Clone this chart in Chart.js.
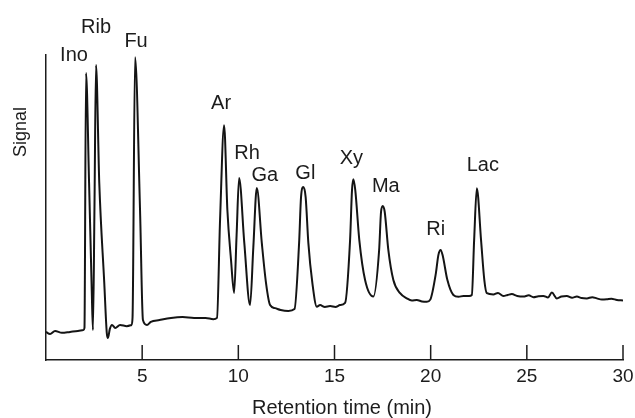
<!DOCTYPE html>
<html><head><meta charset="utf-8">
<script src="https://cdn.jsdelivr.net/npm/chart.js@4"></script>
<style>html,body{margin:0;padding:0;background:#fff;}canvas{display:block;}</style>
</head><body>
<canvas id="c" width="635" height="418"></canvas>
<script>
// ---- data ----
const retentionTime = [
  0.00,0.21,0.47,0.83,1.25,1.66,1.95,2.00,2.08,2.24,2.37,2.44,2.52,2.60,2.77,3.03,3.16,3.22,3.32,3.43,3.60,3.85,4.20,4.45,
  4.50,4.63,4.89,5.04,5.25,5.45,5.90,6.50,7.10,7.70,8.30,8.70,8.89,
  9.05,9.26,9.43,9.62,9.78,9.91,10.04,10.31,10.61,10.78,10.96,11.22,11.44,11.65,11.91,12.20,12.60,12.92,
  13.16,13.26,13.38,13.50,13.64,13.85,14.08,14.25,14.50,14.77,15.05,15.29,15.55,
  15.81,15.91,15.98,16.08,16.29,16.59,17.02,17.32,17.42,17.51,17.61,17.80,18.06,18.41,18.76,19.02,19.28,19.55,19.80,19.98,
  20.27,20.40,20.52,20.62,20.87,21.18,21.45,21.70,22.00,22.14,
  22.26,22.40,22.62,22.79,22.92,23.26,23.50,23.78,24.00,24.22,24.50,24.82,25.10,25.34,25.60,25.86,26.10,26.30,26.56,26.80,
  27.08,27.35,27.60,27.85,28.12,28.40,28.64,28.90,29.16,29.40,29.68,30.00
];
const signal = [
  9.2,8.5,9.5,8.9,9.2,9.5,9.8,10.5,94.1,58.0,25.0,9.8,50.0,96.7,58.0,25.2,8.9,7.2,10.2,11.5,10.5,11.5,11.1,11.5,
  14.0,99.3,49.0,13.1,11.5,12.5,13.1,13.8,14.1,13.8,13.8,13.4,13.8,
  45.9,77.0,49.2,32.8,22.0,41.0,59.7,38.4,18.0,37.0,56.4,38.4,25.2,18.0,17.0,16.4,16.1,16.7,
  38.4,53.4,56.7,53.4,38.4,25.2,17.5,18.0,17.4,17.7,17.4,18.0,18.7,
  39.3,55.7,59.3,55.7,39.3,26.2,20.8,36.0,48.6,50.5,48.6,36.0,26.2,21.9,20.2,19.5,19.7,19.2,19.1,19.8,
  28.4,34.4,36.1,34.4,26.2,21.3,20.7,21.0,21.0,21.3,
  39.3,56.3,39.3,26.2,21.9,21.5,22.0,21.0,21.3,21.6,21.0,20.8,21.2,20.6,20.9,21.0,20.5,22.1,20.2,20.8,
  21.0,20.4,20.8,20.3,20.2,20.6,20.2,19.8,19.9,20.1,19.7,19.5
];
const xTickValues = [5, 10, 15, 20, 25, 30];
const peakNames = ['Ino','Rib','Fu','Ar','Rh','Ga','Gl','Xy','Ma','Ri','Lac'];
const peakTimes = [2.08, 2.60, 4.63, 9.26, 10.04, 10.96, 13.38, 15.98, 17.51, 20.52, 22.40];
const xTitle = 'Retention time (min)';
const yTitle = 'Signal';

// ---- styling ----
const FONT = '"Liberation Sans", Arial, Helvetica, sans-serif';
const INK = '#1c1c1c';
const labelOffsets = {
  Ino:[-12,-18], Rib:[0,-38], Fu:[1,-16], Ar:[-3,-22], Rh:[8,-24], Ga:[8,-12],
  Gl:[2,-14], Xy:[-2,-21], Ma:[3,-19], Ri:[-5,-20], Lac:[6,-23]
};

const annotate = {
  id: 'annotate',
  beforeDraw(chart) {
    const ctx = chart.ctx;
    ctx.save();
    ctx.fillStyle = '#fff';
    ctx.fillRect(0, 0, chart.width, chart.height);
    ctx.restore();
  },
  afterDraw(chart) {
    const {ctx, chartArea: a, scales: {x, y}} = chart;
    ctx.save();
    // inward tick marks
    ctx.strokeStyle = INK;
    ctx.lineWidth = 1.5;
    xTickValues.forEach(v => {
      const px = x.getPixelForValue(v);
      ctx.beginPath();
      ctx.moveTo(px, a.bottom);
      ctx.lineTo(px, a.bottom - 15);
      ctx.stroke();
    });
    // peak labels
    ctx.fillStyle = INK;
    ctx.font = '20px ' + FONT;
    ctx.textAlign = 'center';
    ctx.textBaseline = 'middle';
    peakNames.forEach((name, i) => {
      let best = -1;
      retentionTime.forEach((t, j) => {
        if (Math.abs(t - peakTimes[i]) <= 0.12 && (best < 0 || signal[j] > signal[best])) best = j;
      });
      const px = x.getPixelForValue(retentionTime[best]);
      const py = y.getPixelForValue(signal[best]);
      const [dx, dy] = labelOffsets[name];
      ctx.fillText(name, px + dx, py + dy);
    });
    // axis titles
    ctx.font = '20px ' + FONT;
    ctx.fillText(xTitle, (a.left + a.right) / 2 + 7.5, a.bottom + 48);
    ctx.translate(a.left - 25, a.top + 77);
    ctx.rotate(-Math.PI / 2);
    ctx.font = '18px ' + FONT;
    ctx.fillText(yTitle, 0, 0);
    ctx.restore();
  }
};

new Chart(document.getElementById('c'), {
  type: 'line',
  data: {
    datasets: [{
      data: retentionTime.map((t, i) => ({x: t, y: signal[i]})),
      borderColor: '#141414',
      borderWidth: 2,
      pointRadius: 0,
      fill: false,
      cubicInterpolationMode: 'monotone'
    }]
  },
  options: {
    responsive: false,
    animation: false,
    devicePixelRatio: 1,
    layout: {padding: {left: 46, top: 55, right: 12, bottom: 0}},
    plugins: {legend: {display: false}, tooltip: {enabled: false}},
    scales: {
      x: {
        type: 'linear', min: 0, max: 30,
        afterFit: s => { s.height = 58; s.paddingLeft = 0; s.paddingRight = 0; },
        afterBuildTicks: s => { s.ticks = xTickValues.map(v => ({value: v})); },
        ticks: {
          font: {family: FONT, size: 19}, color: INK, padding: 5,
          maxRotation: 0, autoSkip: false
        },
        grid: {display: true, drawOnChartArea: false, drawTicks: false, color: 'rgba(0,0,0,0)'},
        border: {display: true, color: INK, width: 1.5}
      },
      y: {
        min: 0, max: 100,
        afterFit: s => { s.width = 0; s.paddingTop = 0; s.paddingBottom = 0; },
        ticks: {display: false},
        grid: {display: true, drawOnChartArea: false, drawTicks: false, color: 'rgba(0,0,0,0)'},
        border: {display: true, color: INK, width: 1.5}
      }
    }
  },
  plugins: [annotate]
});
</script>
</body></html>
